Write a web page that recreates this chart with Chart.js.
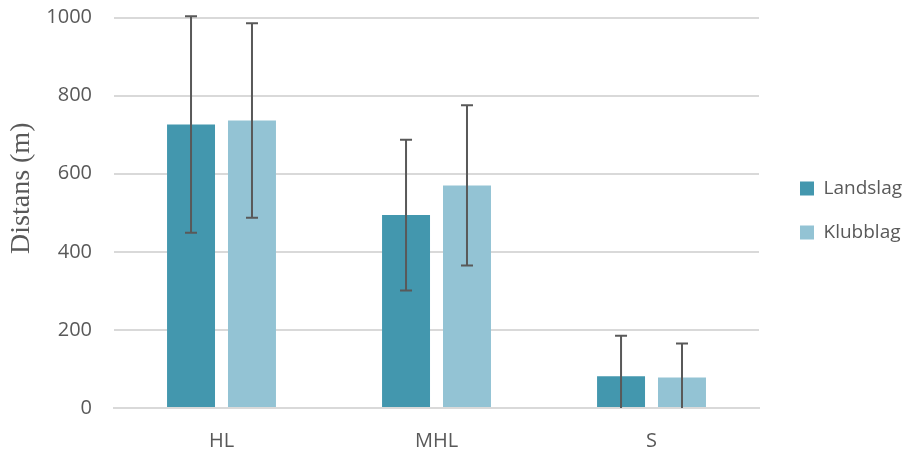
<!DOCTYPE html>
<html>
<head>
<meta charset="utf-8">
<script src="https://cdn.jsdelivr.net/npm/chart.js@4.4.1/dist/chart.umd.min.js"></script>
<style>
  html, body { margin: 0; padding: 0; background: #fff; }
  #wrap { width: 905px; height: 451px; }
</style>
</head>
<body>
<div id="wrap"><canvas id="distChart"></canvas></div>
<script>
const categories = ["HL", "MHL", "S"];
const landslag = [726, 494, 81];
const klubblag = [736, 570, 78];
const landslagErr = [277, 193, 104];
const klubblagErr = [249, 205, 87];
const yTicks = [0, 200, 400, 600, 800, 1000];

const grey = "#595959";

// draws the +/- whiskers on top of each bar
const errorBars = {
  id: "errorBars",
  afterDatasetsDraw(chart) {
    const ctx = chart.ctx;
    const y = chart.scales.y;
    ctx.save();
    ctx.strokeStyle = grey;
    ctx.lineWidth = 2;
    chart.data.datasets.forEach((ds, i) => {
      const meta = chart.getDatasetMeta(i);
      meta.data.forEach((bar, j) => {
        const v = ds.data[j], e = ds.errors[j];
        const top = y.getPixelForValue(v + e);
        const low = v - e;
        const bot = y.getPixelForValue(Math.max(0, low));
        ctx.beginPath();
        ctx.moveTo(bar.x, top);
        ctx.lineTo(bar.x, bot);
        ctx.moveTo(bar.x - 6, top);
        ctx.lineTo(bar.x + 6, top);
        if (low >= 0) {
          ctx.moveTo(bar.x - 6, bot);
          ctx.lineTo(bar.x + 6, bot);
        }
        ctx.stroke();
      });
    });
    ctx.restore();
  }
};

new Chart(document.getElementById("distChart"), {
  type: "bar",
  data: {
    labels: categories,
    datasets: [
      { label: "Landslag", data: landslag, errors: landslagErr, backgroundColor: "#4397ae" },
      { label: "Klubblag", data: klubblag, errors: klubblagErr, backgroundColor: "#93c3d4" }
    ]
  },
  options: {
    responsive: true,
    maintainAspectRatio: false,
    animation: false,
    categoryPercentage: 0.567,
    barPercentage: 0.787,
    layout: { padding: { top: 0, left: 0, right: -7, bottom: 0 } },
    plugins: {
      legend: {
        position: "right",
        align: "start",
        title: { display: true, text: "", font: { size: 10 }, padding: { top: 142, bottom: 0 } },
        labels: {
          color: grey,
          font: { family: "Open Sans", size: 19 },
          boxWidth: 14,
          boxHeight: 14,
          padding: 25
        }
      },
      tooltip: { enabled: false }
    },
    scales: {
      x: {
        grid: { display: false, drawTicks: false },
        border: { color: "#d9d9d9", width: 2 },
        ticks: { color: grey, font: { family: "Open Sans", size: 20 }, padding: 21 },
        afterFit(s) { s.height = 43; }
      },
      y: {
        min: 0,
        max: 1000,
        afterBuildTicks(s) { s.ticks = yTicks.map(v => ({ value: v })); },
        grid: { color: "#d9d9d9", lineWidth: 2, drawTicks: false },
        border: { display: false },
        ticks: { color: grey, font: { family: "Open Sans", size: 20 }, padding: 22, callback: v => String(v) },
        title: {
          display: true,
          text: "       Distans (m)",
          color: grey,
          font: { family: "Liberation Serif", size: 28 },
          padding: { top: 5, bottom: 4 }
        },
        afterFit(s) {
          s.width = 114;
          s.paddingTop = 17.5;
          s.paddingBottom = 12;
        }
      },
      // empty spacer between plot and legend
      gap: {
        position: "right",
        grid: { display: false, drawTicks: false },
        border: { display: false },
        ticks: { display: false },
        afterFit(s) { s.width = 16; }
      }
    }
  },
  plugins: [errorBars]
});
</script>
</body>
</html>
